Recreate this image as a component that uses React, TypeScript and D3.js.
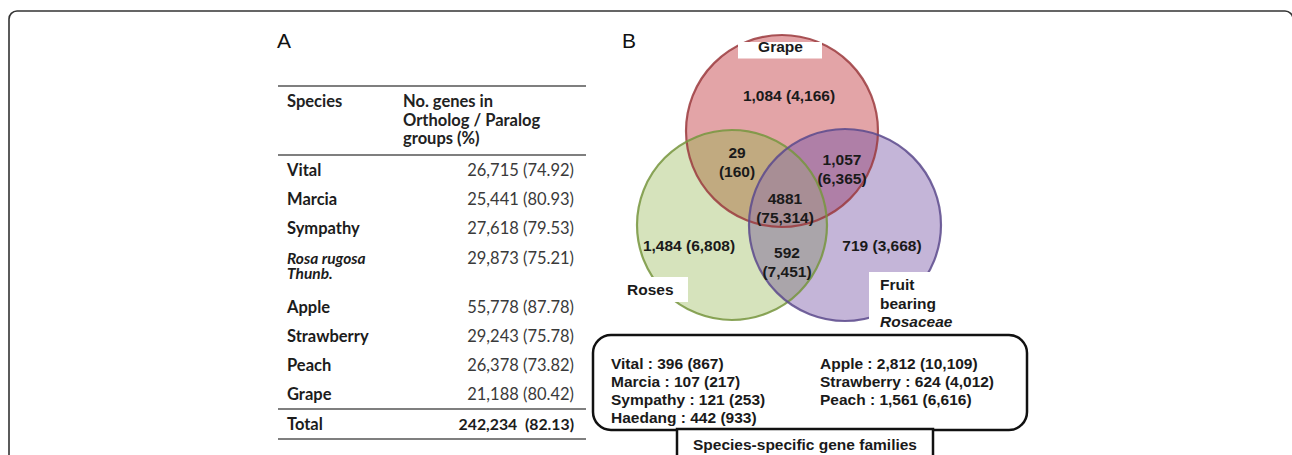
import React, { useEffect, useRef } from 'react'
import * as d3 from 'd3'

// Panel A: genes in ortholog / paralog groups
const species = ['Vital', 'Marcia', 'Sympathy', 'Rosa rugosa Thunb.', 'Apple', 'Strawberry', 'Peach', 'Grape']
const geneCounts = [26715, 25441, 27618, 29873, 55778, 29243, 26378, 21188]
const genePercents = [74.92, 80.93, 79.53, 75.21, 87.78, 75.78, 73.82, 80.42]
const italicSpecies = ['Rosa rugosa Thunb.']
const totalCount = 242234
const totalPercent = 82.13
const headerLines = ['No. genes in', 'Ortholog / Paralog', 'groups (%)']

// Panel B: venn of gene families (genes)
const vennSets = ['Grape', 'Roses', 'Fruit bearing Rosaceae']
const vennKeys = ['G', 'R', 'F', 'GR', 'GF', 'RF', 'GRF']
const vennFamilies = [1084, 1484, 719, 29, 1057, 592, 4881]
const vennGenes = [4166, 6808, 3668, 160, 6365, 7451, 75314]

// species-specific gene families
const specificNames = ['Vital', 'Marcia', 'Sympathy', 'Haedang', 'Apple', 'Strawberry', 'Peach']
const specificFamilies = [396, 107, 121, 442, 2812, 624, 1561]
const specificGenes = [867, 217, 253, 933, 10109, 4012, 6616]

export default function App() {
    const svgRef = useRef<SVGSVGElement>(null)

    useEffect(() => {
        const svg = d3.select(svgRef.current)
        svg.selectAll('*').remove()

        const fmt = d3.format(',')
        const tableFont = 'Lato, "Open Sans", sans-serif'
        const arial = '"Liberation Sans", Arial, sans-serif'

        // outer frame
        svg.append('rect')
            .attr('x', 9).attr('y', 11)
            .attr('width', 1284).attr('height', 470)
            .attr('rx', 8)
            .attr('fill', 'none')
            .attr('stroke', '#333')
            .attr('stroke-width', 1.6)

        // panel letters
        svg.append('text').attr('x', 277).attr('y', 48).text('A')
            .attr('font-family', arial).attr('font-size', 21).attr('fill', '#111')
        svg.append('text').attr('x', 622).attr('y', 48).text('B')
            .attr('font-family', arial).attr('font-size', 21).attr('fill', '#111')

        // ---------- table ----------
        const labelX = 287
        const valueX = 574
        const ruleX = [278, 586]
        const rowUnit = 29.2
        const wrapExtra = 20

        const wrap = (s: string) => {
            if (s.length <= 12) return [s]
            const i = s.lastIndexOf(' ')
            return [s.slice(0, i), s.slice(i + 1)]
        }

        // cumulative row positions (in row units)
        let acc = 0
        const rowPos = species.map(s => {
            const p = acc
            acc += 1 + (wrap(s).length - 1) * wrapExtra / rowUnit
            return p
        })
        const yRow = d3.scaleLinear().domain([0, 1]).range([176, 176 + rowUnit])

        const table = svg.append('g').attr('font-family', tableFont).attr('font-size', 16.5)

        ;[86, 155, 409, 439].forEach(y => {
            table.append('line')
                .attr('x1', ruleX[0]).attr('x2', ruleX[1])
                .attr('y1', y).attr('y2', y)
                .attr('stroke', '#555').attr('stroke-width', 1.6)
        })

        table.append('text').attr('x', labelX).attr('y', 107)
            .attr('font-weight', 'bold').attr('fill', '#222').text('Species')
        table.append('text').attr('font-weight', 'bold').attr('fill', '#222')
            .attr('font-size', 16.5)
            .selectAll('tspan').data(headerLines).join('tspan')
            .attr('x', 403)
            .attr('y', (d, i) => 107 + i * 18.5)
            .text(d => d)

        const rows = table.selectAll('g.row').data(species).join('g').attr('class', 'row')
            .attr('transform', (d, i) => `translate(0,${yRow(rowPos[i])})`)

        rows.append('text')
            .attr('font-weight', 'bold')
            .attr('font-style', d => italicSpecies.includes(d) ? 'italic' : 'normal')
            .attr('font-size', d => wrap(d).length > 1 ? 15.5 : 16.5)
            .attr('fill', '#1c1c1c')
            .selectAll('tspan').data(d => wrap(d)).join('tspan')
            .attr('x', labelX)
            .attr('y', (d, i) => i * 15.5)
            .text(d => d)

        rows.append('text')
            .attr('x', valueX)
            .attr('text-anchor', 'end')
            .attr('font-size', 16.5)
            .attr('fill', '#3a3a3a')
            .text((d, i) => `${fmt(geneCounts[i])} (${genePercents[i].toFixed(2)})`)

        table.append('text').attr('x', labelX).attr('y', 430)
            .attr('font-weight', 'bold').attr('fill', '#1c1c1c').text('Total')
        table.append('text').attr('x', valueX).attr('y', 430)
            .attr('text-anchor', 'end').attr('font-weight', 'bold').attr('fill', '#1c1c1c')
            .attr('font-size', 15.8)
            .text(`${fmt(totalCount)}\u00a0 (${totalPercent.toFixed(2)})`)

        // ---------- venn ----------
        const circles = [
            { key: 'G', cx: 782, cy: 131, r: 96, fill: '#e3a4a7', stroke: '#9b3b3e' },
            { key: 'R', cx: 732, cy: 225, r: 95, fill: '#d6e3bc', stroke: '#77953e' },
            { key: 'F', cx: 845, cy: 225, r: 96, fill: '#c4b5d8', stroke: '#5c4a8c' },
        ]
        const overlapFill: Record<string, string> = {
            GR: '#c1aa80', GF: '#af7fa7', RF: '#aaa5aa', GRF: '#a88e95',
        }
        const byKey = (k: string) => circles.find(c => c.key === k)!

        const defs = svg.append('defs')
        circles.forEach(c => {
            defs.append('clipPath').attr('id', `clip-${c.key}`)
                .append('circle').attr('cx', c.cx).attr('cy', c.cy).attr('r', c.r)
        })

        const venn = svg.append('g')
        circles.forEach(c => {
            venn.append('circle').attr('cx', c.cx).attr('cy', c.cy).attr('r', c.r).attr('fill', c.fill)
        })
        ;['GR', 'GF', 'RF'].forEach(k => {
            const a = byKey(k[0]), b = byKey(k[1])
            venn.append('circle')
                .attr('cx', b.cx).attr('cy', b.cy).attr('r', b.r)
                .attr('clip-path', `url(#clip-${a.key})`)
                .attr('fill', overlapFill[k])
        })
        venn.append('g').attr('clip-path', 'url(#clip-G)')
            .append('circle')
            .attr('cx', byKey('F').cx).attr('cy', byKey('F').cy).attr('r', byKey('F').r)
            .attr('clip-path', 'url(#clip-R)')
            .attr('fill', overlapFill.GRF)
        circles.forEach(c => {
            venn.append('circle').attr('cx', c.cx).attr('cy', c.cy).attr('r', c.r)
                .attr('fill', 'none')
                .attr('stroke', c.stroke)
                .attr('stroke-opacity', 0.85)
                .attr('stroke-width', 2.2)
        })

        // set label boxes
        const setLabels = [
            { box: [738, 42, 84, 16.5], lines: [vennSets[0]], x: 780.5, y: 52, anchor: 'middle' },
            { box: [620, 277, 68, 25], lines: [vennSets[1]], x: 627, y: 295, anchor: 'start' },
            { box: [869, 272, 95, 62], lines: ['Fruit', 'bearing', 'Rosaceae'], x: 880, y: 290, anchor: 'start' },
        ]
        setLabels.forEach(l => {
            svg.append('rect')
                .attr('x', l.box[0]).attr('y', l.box[1])
                .attr('width', l.box[2]).attr('height', l.box[3])
                .attr('fill', '#fff')
            svg.append('text')
                .attr('font-family', arial).attr('font-size', 15.5).attr('font-weight', 'bold')
                .attr('fill', '#1a1a1a').attr('text-anchor', l.anchor)
                .selectAll('tspan').data(l.lines).join('tspan')
                .attr('x', l.x)
                .attr('y', (d, i) => l.y + i * 18.5)
                .attr('font-style', d => d === 'Rosaceae' ? 'italic' : 'normal')
                .text(d => d)
        })

        // region counts
        const regionPos: Record<string, [number, number]> = {
            G: [789, 101], R: [689, 251], F: [882, 251],
            GR: [737, 158], GF: [842, 165], RF: [787, 258], GRF: [785, 204],
        }
        const regionText = (k: string, i: number) => {
            const fam = k === 'GRF' ? d3.format('d')(vennFamilies[i]) : fmt(vennFamilies[i])
            const genes = `(${fmt(vennGenes[i])})`
            return k.length === 1 ? [`${fam} ${genes}`] : [fam, genes]
        }
        svg.append('g')
            .attr('font-family', arial).attr('font-size', 15.5).attr('font-weight', 'bold')
            .attr('fill', '#1a1a1a').attr('text-anchor', 'middle')
            .selectAll('text').data(vennKeys).join('text')
            .each(function (k, i) {
                const [x, y] = regionPos[k]
                d3.select(this).selectAll('tspan').data(regionText(k, i)).join('tspan')
                    .attr('x', x)
                    .attr('y', (d, j) => y + j * 19)
                    .text(d => d)
            })

        // ---------- species-specific box ----------
        svg.append('rect')
            .attr('x', 593).attr('y', 335)
            .attr('width', 434).attr('height', 95)
            .attr('rx', 18)
            .attr('fill', 'none')
            .attr('stroke', '#111')
            .attr('stroke-width', 2.5)

        const yLine = d3.scaleLinear().domain([0, 1]).range([369, 387])
        svg.append('g')
            .attr('font-family', arial).attr('font-size', 15.5).attr('font-weight', 'bold')
            .attr('fill', '#1a1a1a')
            .selectAll('text').data(specificNames).join('text')
            .attr('x', (d, i) => i < 4 ? 611 : 820)
            .attr('y', (d, i) => yLine(i < 4 ? i : i - 4))
            .text((d, i) => `${d} : ${fmt(specificFamilies[i])} (${fmt(specificGenes[i])})`)

        svg.append('rect')
            .attr('x', 677).attr('y', 429)
            .attr('width', 256).attr('height', 40)
            .attr('fill', '#fff')
            .attr('stroke', '#111')
            .attr('stroke-width', 2.5)
        svg.append('text')
            .attr('x', 805).attr('y', 450)
            .attr('text-anchor', 'middle')
            .attr('font-family', arial).attr('font-size', 15.5).attr('font-weight', 'bold')
            .attr('fill', '#1a1a1a')
            .text('Species-specific gene families')
    }, [])

    return (
        <svg ref={svgRef} width={1292} height={455}
            style={{ position: 'absolute', left: 0, top: 0, background: '#fff' }} />
    )
}
